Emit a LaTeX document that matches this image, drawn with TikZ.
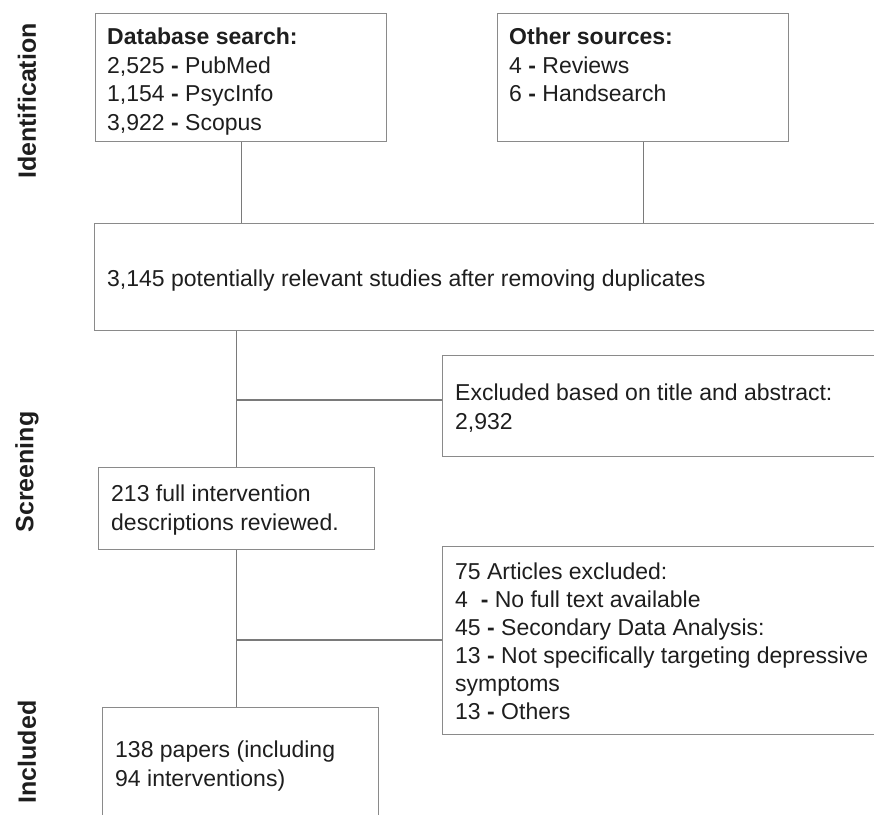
\documentclass[tikz,border=0pt]{standalone}
\usepackage{fontspec}
\setmainfont{Liberation Sans}
\usetikzlibrary{calc}
\definecolor{ink}{HTML}{1E1E1E}
\definecolor{frame}{HTML}{8A8A8A}
\definecolor{wire}{HTML}{7A7A7A}
\begin{document}
\begin{tikzpicture}[x=1pt,y=-1pt,
  box/.style={draw=frame,line width=1.3pt,rectangle,inner sep=0pt,anchor=north west},
  txt/.style={text=ink,align=left,inner sep=0pt,anchor=base west,
    font=\fontsize{23}{28.5}\selectfont},
  phase/.style={text=ink,rotate=90,inner sep=0pt,font=\fontsize{25}{28}\selectfont\bfseries},
  link/.style={draw=wire,line width=1.2pt}]
\useasboundingbox (0,0) rectangle (874,814);
\clip (0,0) rectangle (874,814);

% phase labels along the left margin
\node[phase] (pid) at (27,101) {Identification};
\node[phase] (psc) at (27,472) {Screening};
\node[phase] (pin) at (27,752) {Included};

% boxes
\node[box,minimum width=291,minimum height=128] (db) at (95,13) {};
\node[box,minimum width=291,minimum height=128] (oth) at (497,13) {};
\node[box,minimum width=820,minimum height=107] (dup) at (94,223) {};
\node[box,minimum width=460,minimum height=101] (exa) at (442,355) {};
\node[box,minimum width=276,minimum height=82] (full) at (98,467) {};
\node[box,minimum width=460,minimum height=188] (exb) at (442,546) {};
\node[box,minimum width=276,minimum height=150] (inc) at (102,707) {};

% box texts (anchored at the baseline of their last line)
\node[txt] (dbt) at ($(db.north west)+(12,117)$)
  {\textbf{Database search:}\\2,525 \textbf{-} PubMed\\1,154 \textbf{-} PsycInfo\\3,922 \textbf{-} Scopus};
\node[txt] (otht) at ($(oth.north west)+(12,88.5)$)
  {\textbf{Other sources:}\\4 \textbf{-} Reviews\\6 \textbf{-} Handsearch};
\node[txt] (dupt) at ($(dup.north west)+(13,63.5)$)
  {3,145 potentially relevant studies after removing duplicates};
\node[txt] (exat) at ($(exa.north west)+(13,74)$)
  {Excluded based on title and abstract:\\2,932};
\node[txt] (fullt) at ($(full.north west)+(13,63)$)
  {213 full intervention\\descriptions reviewed.};
\node[txt,font=\fontsize{23}{28}\selectfont] (exbt) at ($(exb.north west)+(13,173)$)
  {75 Articles excluded:\\4\ \ \textbf{-} No full text available\\45 \textbf{-} Secondary Data Analysis:\\13 \textbf{-} Not specifically targeting depressive\\symptoms\\13 \textbf{-} Others};
\node[txt] (inct) at ($(inc.north west)+(13,79)$)
  {138 papers (including\\94 interventions)};

% branch points on the main flow line
\coordinate (ja) at ($(exa.north west)+(0,45)$);
\coordinate (jb) at ($(exb.north west)+(0,94)$);

% connectors
\draw[link] (db.south) -- (db.south |- dup.north);
\draw[link] (oth.south) -- (oth.south |- dup.north);
\draw[link] (full.north |- dup.south) -- (full.north);
\draw[link] (full.north |- ja) -- (ja);
\draw[link] (full.south) -- (full.south |- inc.north);
\draw[link] (full.south |- jb) -- (jb);
\end{tikzpicture}
\end{document}
